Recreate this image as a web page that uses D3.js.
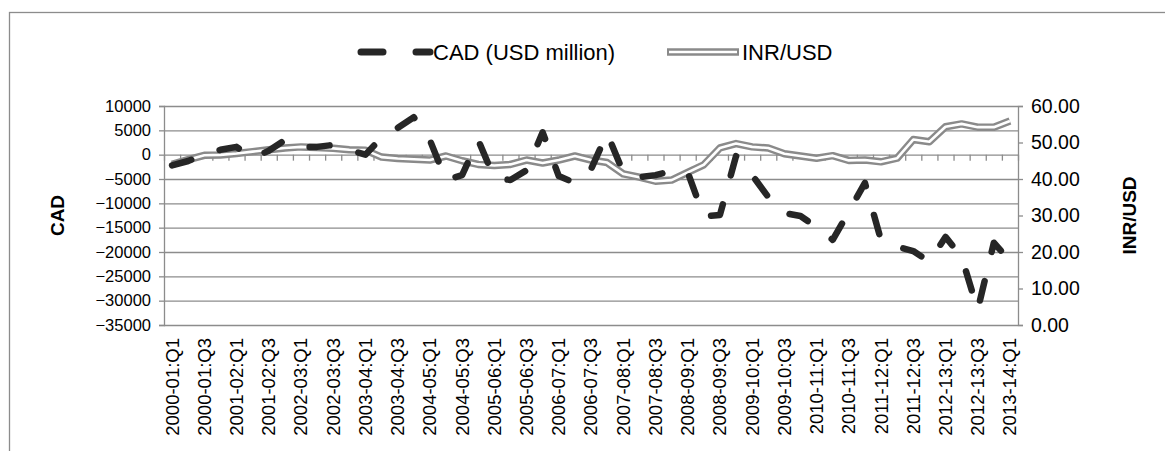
<!DOCTYPE html>
<html>
<head>
<meta charset="utf-8">
<script src="https://cdn.jsdelivr.net/npm/d3@7"></script>
<style>
  body { margin: 0; background: #fff; }
  svg { display: block; font-family: "Liberation Sans", Arial, sans-serif; }
  .grid line { stroke: #8c8c8c; stroke-width: 1.3; }
  .grid .domain { display: none; }
  .axis .domain, .axis line { stroke: #8c8c8c; stroke-width: 1.3; }
  .axis text { fill: #000; }
</style>
</head>
<body>
<div class="container"></div>
<script>
const width = 1165,
    height = 451,
    margin = { top: 106, right: 147, bottom: 126, left: 164 };

const quarters = [
    '2000-01:Q1', '2000-01:Q2', '2000-01:Q3', '2000-01:Q4',
    '2001-02:Q1', '2001-02:Q2', '2001-02:Q3', '2001-02:Q4',
    '2002-03:Q1', '2002-03:Q2', '2002-03:Q3', '2002-03:Q4',
    '2003-04:Q1', '2003-04:Q2', '2003-04:Q3', '2003-04:Q4',
    '2004-05:Q1', '2004-05:Q2', '2004-05:Q3', '2004-05:Q4',
    '2005-06:Q1', '2005-06:Q2', '2005-06:Q3', '2005-06:Q4',
    '2006-07:Q1', '2006-07:Q2', '2006-07:Q3', '2006-07:Q4',
    '2007-08:Q1', '2007-08:Q2', '2007-08:Q3', '2007-08:Q4',
    '2008-09:Q1', '2008-09:Q2', '2008-09:Q3', '2008-09:Q4',
    '2009-10:Q1', '2009-10:Q2', '2009-10:Q3', '2009-10:Q4',
    '2010-11:Q1', '2010-11:Q2', '2010-11:Q3', '2010-11:Q4',
    '2011-12:Q1', '2011-12:Q2', '2011-12:Q3', '2011-12:Q4',
    '2012-13:Q1', '2012-13:Q2', '2012-13:Q3', '2012-13:Q4',
    '2013-14:Q1'
];

// current account deficit, USD million
const cad = [
    -2200, -1300, 0, 1000, 1600, -700, 800, 3000,
    1600, 1600, 2000, 1000, 0, 3500, 5500, 7700,
    3000, -5200, -4200, 3000, -4800, -5200, -3200, 4600,
    -4400, -5800, -3000, 4400, -3600, -4600, -4200, -3400,
    -3600, -12700, -12400, -300, -4200, -8700, -12000, -12600,
    -14900, -17500, -11700, -5800, -17600, -18900, -19800, -22000,
    -16900, -21000, -31900, -18100, -21800
];

// rupees per dollar
const inrUsd = [
    44.0, 45.3, 46.5, 46.6, 47.0, 47.5, 48.0, 48.5,
    48.8, 48.6, 48.4, 48.0, 47.9, 46.0, 45.6, 45.4,
    45.2, 46.3, 45.0, 44.0, 43.7, 44.0, 45.2, 44.4,
    45.2, 46.3, 45.2, 44.5, 41.4, 40.5, 39.4, 39.7,
    41.8, 43.9, 48.5, 49.7, 48.8, 48.5, 46.9, 46.3,
    45.7, 46.4, 45.1, 45.2, 44.7, 45.7, 50.8, 50.2,
    54.3, 55.1, 54.2, 54.2, 55.9
];

const cadTicks = [-35000, -30000, -25000, -20000, -15000, -10000, -5000, 0, 5000, 10000];
const inrTicks = [0, 10, 20, 30, 40, 50, 60];
const seriesNames = ['CAD (USD million)', 'INR/USD'];

const innerW = width - margin.left - margin.right,
    innerH = height - margin.top - margin.bottom;

const data = quarters.map((q, i) => ({ q: q, cad: cad[i], inr: inrUsd[i] }));

const svg = d3.select('.container')
    .append('svg')
    .attr('width', width)
    .attr('height', height);

// chart frame
svg.append('rect')
    .attr('x', 9.5)
    .attr('y', 12.5)
    .attr('width', width)
    .attr('height', height)
    .attr('fill', 'none')
    .attr('stroke', '#8c8c8c')
    .attr('stroke-width', 1.3);

const x = d3.scaleBand()
    .domain(quarters)
    .range([margin.left, margin.left + innerW]);

const xEdge = d3.scaleLinear()
    .domain([0, quarters.length])
    .range([margin.left, margin.left + innerW]);

const yL = d3.scaleLinear()
    .domain([-35000, 10000])
    .range([margin.top + innerH, margin.top]);

const yR = d3.scaleLinear()
    .domain([0, 60])
    .range([margin.top + innerH, margin.top]);

// gridlines
svg.append('g')
    .attr('class', 'grid')
    .attr('transform', `translate(${margin.left}, 0)`)
    .call(d3.axisLeft(yL).tickValues(cadTicks).tickSize(-innerW).tickFormat(''));

// left axis
const leftAxis = svg.append('g')
    .attr('class', 'axis')
    .attr('transform', `translate(${margin.left}, 0)`)
    .call(d3.axisLeft(yL).tickValues(cadTicks).tickSize(5).tickPadding(8).tickFormat(d3.format('d')));
leftAxis.selectAll('text').style('font-size', '16.5px');

// right axis
const rightAxis = svg.append('g')
    .attr('class', 'axis')
    .attr('transform', `translate(${margin.left + innerW}, 0)`)
    .call(d3.axisRight(yR).tickValues(inrTicks).tickSize(5).tickPadding(8).tickFormat(d3.format('.2f')));
rightAxis.selectAll('text').style('font-size', '19.5px');

// category tick marks on the zero line
svg.append('g')
    .attr('class', 'axis')
    .attr('transform', `translate(0, ${yL(0)})`)
    .call(d3.axisBottom(xEdge).tickValues(d3.range(quarters.length + 1)).tickSize(6).tickFormat(''))
    .select('.domain').remove();

// category labels at the bottom
const bottomAxis = svg.append('g')
    .attr('class', 'axis')
    .attr('transform', `translate(0, ${margin.top + innerH})`)
    .call(d3.axisBottom(x).tickValues(quarters.filter((d, i) => i % 2 === 0)).tickSize(0));
bottomAxis.select('.domain').remove();
bottomAxis.selectAll('text')
    .attr('transform', 'rotate(-90)')
    .attr('x', -13)
    .attr('y', 0)
    .attr('dy', '0.35em')
    .style('text-anchor', 'end')
    .style('font-size', '18.5px');

// INR/USD: double line
const lineR = d3.line()
    .x(d => x(d.q) + x.bandwidth() / 2)
    .y(d => yR(d.inr));

svg.append('path')
    .datum(data)
    .attr('d', lineR)
    .attr('fill', 'none')
    .attr('stroke', '#8a8a8a')
    .attr('stroke-width', 7.5)
    .attr('stroke-linejoin', 'round');

svg.append('path')
    .datum(data)
    .attr('d', lineR)
    .attr('fill', 'none')
    .attr('stroke', '#fff')
    .attr('stroke-width', 2.6)
    .attr('stroke-linejoin', 'round');

// CAD: dashed line
const lineL = d3.line()
    .x(d => x(d.q) + x.bandwidth() / 2)
    .y(d => yL(d.cad));

svg.append('path')
    .datum(data)
    .attr('d', lineL)
    .attr('fill', 'none')
    .attr('stroke', '#262626')
    .attr('stroke-width', 6.5)
    .attr('stroke-dasharray', '20 30')
    .attr('stroke-linecap', 'round')
    .attr('stroke-linejoin', 'round');

// axis titles
svg.append('text')
    .attr('transform', `translate(64, ${margin.top + innerH / 2}) rotate(-90)`)
    .attr('text-anchor', 'middle')
    .style('font-size', '19px')
    .style('font-weight', 'bold')
    .text('CAD');

svg.append('text')
    .attr('transform', `translate(1136, ${margin.top + innerH / 2}) rotate(-90)`)
    .attr('text-anchor', 'middle')
    .style('font-size', '19px')
    .style('font-weight', 'bold')
    .text('INR/USD');

// legend
const legend = svg.append('g').attr('id', 'legend');

legend.append('line')
    .attr('x1', 361).attr('x2', 430)
    .attr('y1', 52).attr('y2', 52)
    .attr('stroke', '#262626')
    .attr('stroke-width', 7)
    .attr('stroke-linecap', 'round')
    .attr('stroke-dasharray', '22 33');

legend.append('text')
    .attr('x', 433)
    .attr('y', 52)
    .attr('dy', '0.35em')
    .style('font-size', '22px')
    .text(seriesNames[0]);

legend.append('line')
    .attr('x1', 667).attr('x2', 739)
    .attr('y1', 52).attr('y2', 52)
    .attr('stroke', '#8a8a8a')
    .attr('stroke-width', 7.5);

legend.append('line')
    .attr('x1', 669).attr('x2', 737)
    .attr('y1', 52).attr('y2', 52)
    .attr('stroke', '#fff')
    .attr('stroke-width', 2.6);

legend.append('text')
    .attr('x', 742)
    .attr('y', 52)
    .attr('dy', '0.35em')
    .style('font-size', '22px')
    .text(seriesNames[1]);
</script>
</body>
</html>
